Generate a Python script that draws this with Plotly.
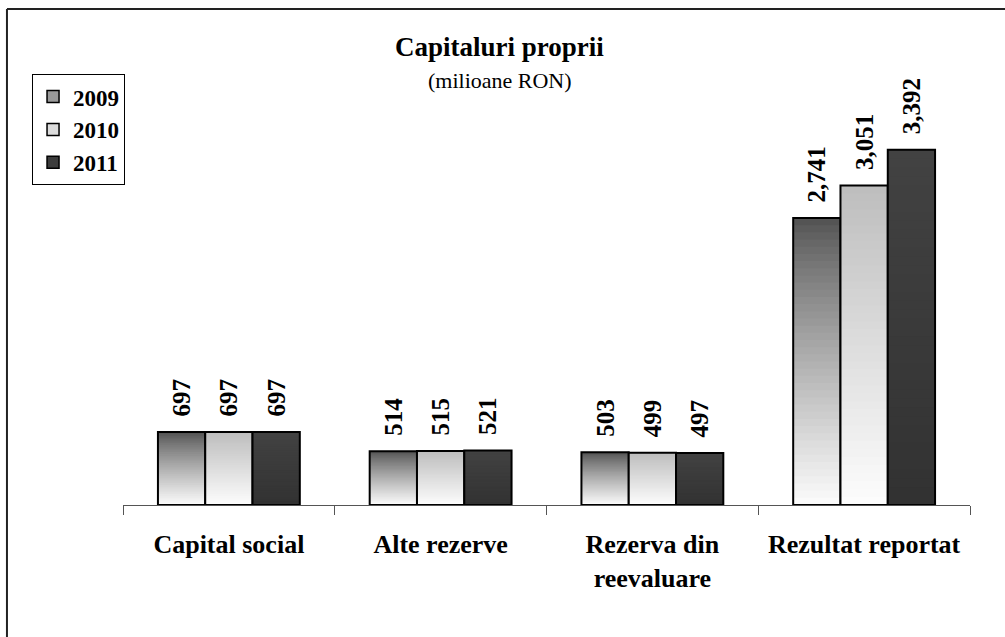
import plotly.graph_objects as go

categories = ["Capital social", "Alte rezerve", "Rezerva din<br>reevaluare", "Rezultat reportat"]
years = ["2009", "2010", "2011"]
values_2009 = [697, 514, 503, 2741]
values_2010 = [697, 515, 499, 3051]
values_2011 = [697, 521, 497, 3392]
series = [values_2009, values_2010, values_2011]

# gradient (top colour, bottom colour, curve exponent) per year
grad = {
    "2009": ((84, 84, 84), (250, 250, 250), 0.85),
    "2010": ((190, 190, 190), (252, 252, 252), 1.0),
    "2011": ((66, 66, 66), (50, 50, 50), 1.0),
}
legend_col = {"2009": "#9a9a9a", "2010": "#dcdcdc", "2011": "#3c3c3c"}

FONT = "Liberation Serif"
N = 40

fig = go.Figure()
for yr, vals in zip(years, series):
    top, bot, ex = grad[yr]
    for k in range(N):
        t = (k / (N - 1)) ** ex
        c = tuple(round(top[i] + (bot[i] - top[i]) * t) for i in range(3))
        frac = (N - k) / N
        fig.add_trace(go.Bar(
            x=categories, y=[v * frac for v in vals], offsetgroup=yr,
            marker=dict(color="rgb(%d,%d,%d)" % c, line=dict(width=0)),
            showlegend=False, hoverinfo="skip",
        ))
    # outline + labels
    fig.add_trace(go.Bar(
        x=categories, y=vals, offsetgroup=yr,
        marker=dict(color="rgba(0,0,0,0)", line=dict(color="black", width=2)),
        texttemplate="\u00a0\u00a0<b>%{y:,}</b>", textposition="outside", textangle=-90,
        textfont=dict(family=FONT, size=25, color="black"),
        cliponaxis=False, constraintext="none",
        showlegend=False, name=yr,
    ))
    # legend entry
    fig.add_trace(go.Bar(
        x=[categories[0]], y=[None], offsetgroup=yr, name=yr,
        marker=dict(color=legend_col[yr], line=dict(color="black", width=1.5)),
        showlegend=True,
    ))

fig.update_layout(
    width=1005, height=637,
    margin=dict(l=123, r=35, t=100, b=132),
    paper_bgcolor="white", plot_bgcolor="white",
    barmode="group", bargap=0.33, bargroupgap=0,
    font=dict(family=FONT, color="black"),
    showlegend=True,
    legend=dict(
        x=-0.1074, y=1.064, xanchor="left", yanchor="top",
        bordercolor="black", borderwidth=1, bgcolor="white",
        font=dict(family=FONT, size=23, weight="bold", color="black"),
        tracegroupgap=0, itemwidth=30,
    ),
    xaxis=dict(
        type="category", categoryarray=categories, categoryorder="array",
        showline=True, linecolor="#555555", linewidth=1,
        ticks="outside", tickson="boundaries", ticklen=9, tickcolor="#555555",
        ticklabelstandoff=16,
        tickfont=dict(family=FONT, size=26, weight="bold", color="black"),
        showgrid=False, zeroline=False,
    ),
    yaxis=dict(range=[0, 3868], visible=False, showgrid=False, zeroline=False),
    annotations=[
        dict(text="<b>Capitaluri proprii</b>", xref="paper", yref="paper",
             x=0.445, y=1.131, xanchor="center", yanchor="middle",
             showarrow=False, font=dict(family=FONT, size=27, color="black")),
        dict(text="(milioane RON)", xref="paper", yref="paper",
             x=0.445, y=1.049, xanchor="center", yanchor="middle",
             showarrow=False, font=dict(family=FONT, size=22, color="black")),
    ],
    shapes=[
        dict(type="line", xref="paper", yref="paper", x0=-0.137, x1=1.2,
             y0=1.2247, y1=1.2247, line=dict(color="#222222", width=2)),
        dict(type="line", xref="paper", yref="paper", x0=-0.137, x1=-0.137,
             y0=1.2247, y1=-0.5, line=dict(color="#222222", width=2)),
    ],
)

fig.write_html("out.html", config={"displayModeBar": False},
               post_script="document.body.style.margin='0';")
